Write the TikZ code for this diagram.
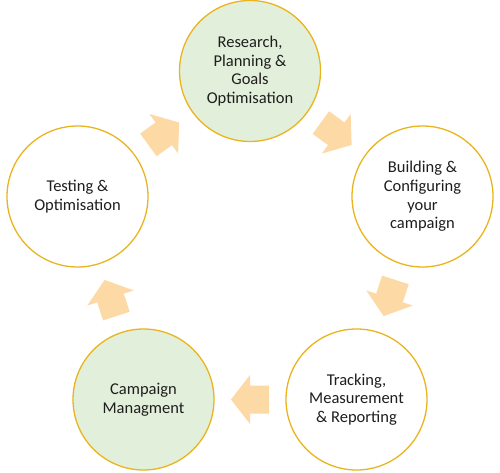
\documentclass[tikz,border=0pt]{standalone}
\usepackage{fontspec}
\setmainfont{Carlito}
\usetikzlibrary{calc}
\definecolor{ringgold}{RGB}{234,180,30}
\definecolor{paleg}{RGB}{226,239,218}
\definecolor{peach}{RGB}{253,217,166}
\definecolor{txt}{RGB}{30,30,30}
\tikzset{
  stage/.style={circle, draw=ringgold, line width=1.3pt, minimum size=141pt, inner sep=0pt,
    align=center, text=txt, font=\fontsize{16.5}{18.7}\selectfont},
  greenstage/.style={stage, fill=paleg},
  whitestage/.style={stage, fill=white},
  blockarrow/.style={fill=peach, draw=none}
}
\newcommand\cyclearrow[3]{%
  \begin{scope}[shift={($(#1)!0.5!(#2)$)}, rotate=#3]
    \fill[blockarrow] (19,0) -- (0,24.5) -- (0,14) -- (-19,14) -- (-19,-14) -- (0,-14) -- (0,-24.5) -- cycle;
  \end{scope}}
\begin{document}
\begin{tikzpicture}[x=1pt, y=1pt]
  \useasboundingbox (0,0) rectangle (500,472);
  \node[greenstage] (top) at (250,401) {Research,\\Planning \&\\Goals\\Optimisation};
  \node[whitestage] (right) at (422.5,275.5) {Building \&\\Configuring\\your\\campaign};
  \node[whitestage] (br) at (356.5,72.5) {Tracking,\\Measurement\\\& Reporting};
  \node[greenstage] (bl) at (143.5,72.5) {Campaign\\Managment};
  \node[whitestage] (left) at (77.5,275.5) {Testing \&\\Optimisation};
  \cyclearrow{top}{right}{-36}
  \cyclearrow{right}{br}{-108}
  \cyclearrow{br}{bl}{180}
  \cyclearrow{bl}{left}{108}
  \cyclearrow{left}{top}{36}
\end{tikzpicture}
\end{document}
